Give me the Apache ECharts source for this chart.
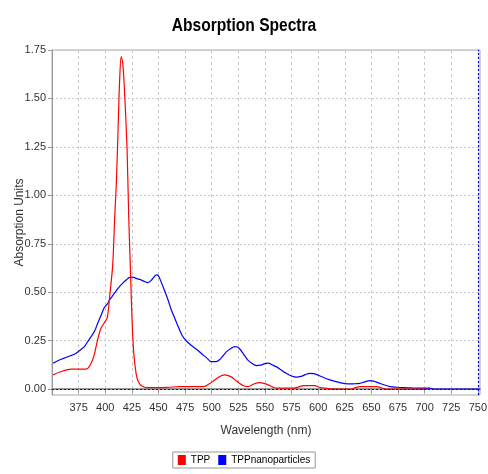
<!DOCTYPE html>
<html>
<head>
<meta charset="utf-8">
<script src="https://cdn.jsdelivr.net/npm/echarts@6/dist/echarts.min.js"></script>
<style>html,body{margin:0;padding:0;background:#fff;}#c{width:488px;height:474px;}</style>
</head>
<body>
<div id="c"></div>
<script>
// Data
const tppWavelength = [351,358,368,382,385,388,390,392.8,396,400,402,404,407,409,410.5,412,413.5,415,416.5,418,420.5,422,424,425,426.6,429,431,434,440,450,460,470,480,492,497,501,506,512,518,522,526,530,534,540,545,549,553,557,561,570,577,582,586,597,601,606,611,620,630,635,639,648,655,660,664,680,690,703];
const tppAbsorbance = [0.074,0.09,0.103,0.103,0.116,0.15,0.185,0.254,0.314,0.35,0.37,0.47,0.64,0.9,1.07,1.33,1.59,1.716,1.68,1.55,1.24,0.9,0.56,0.385,0.2,0.08,0.04,0.018,0.008,0.008,0.01,0.013,0.013,0.013,0.025,0.04,0.06,0.074,0.065,0.048,0.031,0.018,0.013,0.028,0.034,0.03,0.022,0.012,0.005,0.005,0.005,0.012,0.018,0.018,0.01,0.005,0.002,0,0,0.008,0.013,0.013,0.013,0.006,0,0,0,0];
const nanoWavelength = [351,356,361.6,366,371,376,380.4,383.5,386.6,390,392.9,396,399,402,404,408,412,416,420,423,426,429,433,437,440,443,446,448,450,452,455.6,459,462,465,468,472,476,481,486,491,495,499.5,504,508,511,514,518,521.6,524,526,530,534,538,542,546,550,553,557,561,565,570,575,579.6,584,588,592,596,600,606,611,616,620,625,630,635,639,644,648.5,652,656,661,667.5,674,680,690,700,705,708,720,740,752];
const nanoAbsorbance = [0.134,0.148,0.16,0.17,0.18,0.2,0.22,0.245,0.27,0.3,0.34,0.38,0.42,0.44,0.46,0.49,0.52,0.545,0.565,0.577,0.578,0.572,0.565,0.555,0.55,0.56,0.58,0.59,0.585,0.56,0.51,0.46,0.41,0.37,0.33,0.28,0.25,0.225,0.205,0.18,0.163,0.142,0.142,0.155,0.175,0.194,0.21,0.22,0.218,0.21,0.18,0.15,0.132,0.122,0.124,0.132,0.134,0.125,0.115,0.1,0.082,0.068,0.062,0.066,0.075,0.082,0.08,0.072,0.058,0.048,0.04,0.034,0.029,0.027,0.028,0.03,0.038,0.044,0.042,0.034,0.024,0.013,0.01,0.008,0.006,0.005,0.005,0.001,0.001,0.001,0.001];
const xTicks = [375,400,425,450,475,500,525,550,575,600,625,650,675,700,725,750];
const yTicks = [0,0.25,0.5,0.75,1,1.25,1.5,1.75];
const seriesNames = ['TPP','TPPnanoparticles'];
const chartTitle = 'Absorption Spectra';

const pair = (xs, ys) => xs.map((x, i) => [x, ys[i]]);
const chart = echarts.init(document.getElementById('c'), null, {renderer: 'canvas'});
const labelFont = {fontFamily: 'Liberation Sans, Arial, sans-serif', fontSize: 11, color: '#333'};
chart.setOption({
  animation: false,
  backgroundColor: '#fff',
  graphic: [{
    type: 'text', x: 244, y: 26, scaleX: 0.82, scaleY: 1,
    style: {
      text: chartTitle, align: 'center', verticalAlign: 'middle',
      font: 'bold 19px "Liberation Sans", Arial, sans-serif', fill: '#000'
    }
  }],
  legend: {
    data: seriesNames, left: 'center', top: 452,
    icon: 'rect', itemWidth: 8, itemHeight: 10, itemGap: 8,
    borderColor: '#999', borderWidth: 1, padding: [3, 5],
    textStyle: {fontFamily: 'Liberation Sans, Arial, sans-serif', fontSize: 10, color: '#000'}
  },
  grid: {left: 52, right: 8, top: 50, bottom: 79, show: true, borderColor: '#aaa', borderWidth: 1, outerBoundsMode: 'none', containLabel: false},
  xAxis: {
    type: 'value', min: 350, max: 752,
    name: 'Wavelength (nm)', nameLocation: 'middle', nameGap: 30, nameMoveOverlap: false,
    nameTextStyle: {fontFamily: 'Liberation Sans, Arial, sans-serif', fontSize: 12, color: '#333'},
    axisLine: {show: true, lineStyle: {color: '#999', width: 2}},
    axisTick: {show: true, length: 4, lineStyle: {color: '#999'}, customValues: xTicks},
    axisLabel: Object.assign({margin: 7, customValues: xTicks}, labelFont),
    splitLine: {show: true, lineStyle: {color: '#c8c8c8', type: [3, 3]}}
  },
  yAxis: {
    type: 'value', min: -0.03, max: 1.75,
    name: 'Absorption Units', nameLocation: 'middle', nameGap: 26, nameMoveOverlap: false,
    nameTextStyle: {fontFamily: 'Liberation Sans, Arial, sans-serif', fontSize: 12, color: '#333'},
    axisLine: {show: true, lineStyle: {color: '#999', width: 1}},
    axisTick: {show: true, length: 4, lineStyle: {color: '#999'}, customValues: yTicks},
    axisLabel: Object.assign({margin: 6, customValues: yTicks, formatter: v => v.toFixed(2)}, labelFont),
    splitLine: {show: true, lineStyle: {color: '#c8c8c8', type: [2, 2]}}
  },
  series: [
    {
      name: seriesNames[0], type: 'line', data: pair(tppWavelength, tppAbsorbance),
      showSymbol: false, smooth: 0.3, lineStyle: {color: '#ff0000', width: 1.2}, itemStyle: {color: '#ff0000'}, z: 3
    },
    {
      name: seriesNames[1], type: 'line', data: pair(nanoWavelength, nanoAbsorbance),
      showSymbol: false, smooth: 0.3, lineStyle: {color: '#0000ff', width: 1.2}, itemStyle: {color: '#0000ff'}, z: 2,
      markLine: {
        silent: true, symbol: 'none', label: {show: false},
        lineStyle: {color: '#0000ff', type: [2, 2], width: 1.2},
        data: [{yAxis: 0}, {xAxis: 750}]
      }
    }
  ]
});
</script>
</body>
</html>
